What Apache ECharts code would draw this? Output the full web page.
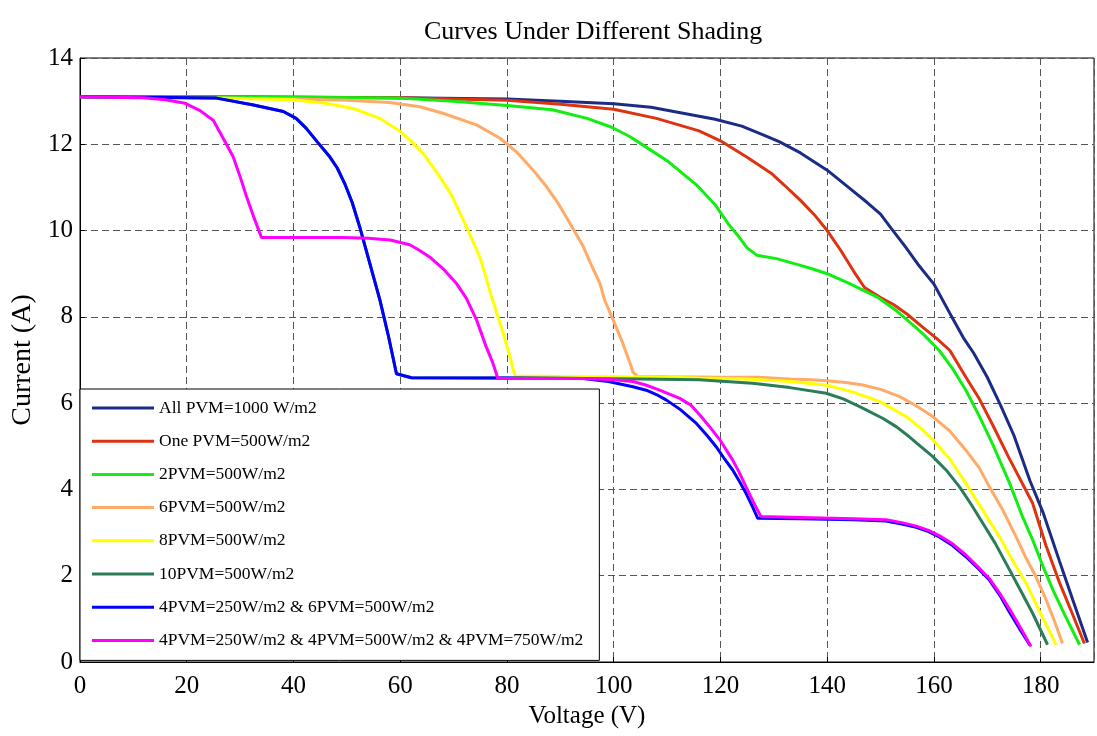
<!DOCTYPE html>
<html>
<head>
<meta charset="utf-8">
<title>Curves Under Different Shading</title>
<script src="https://cdn.jsdelivr.net/npm/echarts@6/dist/echarts.min.js"></script>
<style>
  html, body { margin: 0; padding: 0; background: #fff; }
  #chart { width: 1097px; height: 736px; }
</style>
</head>
<body>
<div id="chart"></div>
<script>
// I-V curves of the PV array, [voltage (V), current (A)]
const allPvm1000 = [[0,13.1],[20,13.1],[40,13.09],[60,13.08],[80,13.05],[90,13.0],[100,12.94],[107,12.86],[113,12.72],[119,12.58],[124,12.42],[128,12.22],[131,12.06],[135,11.8],[140,11.4],[144,11.0],[147.5,10.65],[150,10.38],[152,10.05],[154.5,9.65],[157,9.22],[160,8.76],[163,8.08],[165.5,7.52],[167.5,7.15],[170,6.6],[172.5,5.95],[175,5.25],[178,4.2],[180.5,3.45],[183.5,2.35],[186,1.45],[188.8,0.45]];

const onePvm500 = [[0,13.1],[20,13.1],[40,13.09],[60,13.08],[80,13.02],[90,12.93],[100,12.81],[108,12.6],[116,12.31],[120,12.08],[125,11.7],[129.5,11.33],[132,11.05],[135,10.7],[137.5,10.38],[140,10.0],[142.5,9.55],[145,9.05],[147,8.68],[150,8.45],[152.5,8.28],[155,8.06],[158,7.75],[160.5,7.5],[163,7.22],[166,6.6],[168.5,6.1],[171,5.5],[174,4.75],[178.5,3.68],[181,2.7],[183.5,1.85],[186,1.1],[188.2,0.43]];

const twoPvm500 = [[0,13.1],[20,13.1],[40,13.09],[60,13.07],[70,13.0],[80,12.9],[88.5,12.8],[95,12.6],[99.5,12.4],[103,12.18],[106,11.94],[110,11.62],[115.5,11.06],[119,10.6],[121.5,10.15],[123.5,9.85],[125,9.6],[126.8,9.43],[130.5,9.35],[134.5,9.21],[137,9.12],[140,9.0],[144,8.78],[147,8.6],[149.5,8.45],[153,8.14],[156,7.82],[158,7.6],[161,7.22],[163.5,6.8],[166,6.3],[168.5,5.7],[171,5.05],[174.2,4.14],[176.5,3.4],[178.5,2.83],[180.5,2.2],[182.3,1.67],[184.5,1.1],[187.3,0.4]];

const sixPvm500 = [[0,13.1],[20,13.08],[40,13.05],[50,13.02],[58,12.97],[63.7,12.87],[68,12.72],[74.3,12.45],[78.7,12.14],[82,11.8],[84.9,11.4],[87.4,11.02],[89.5,10.65],[91.8,10.17],[94.3,9.63],[96,9.15],[97.4,8.78],[98.3,8.39],[99.9,7.93],[101.7,7.39],[103,6.95],[103.6,6.72],[104.5,6.62],[110,6.61],[120,6.6],[127,6.6],[133,6.56],[137,6.54],[140,6.52],[143.5,6.48],[146.7,6.42],[150,6.32],[153.6,6.15],[156.5,5.95],[159.8,5.69],[163,5.35],[166,4.91],[168.5,4.5],[170.4,4.06],[173,3.5],[175.4,2.9],[177.3,2.4],[179.1,1.98],[181,1.45],[182.5,0.98],[184.1,0.43]];

const eightPvm500 = [[0,13.1],[20,13.08],[30,13.06],[39.9,13.03],[46,12.95],[51.2,12.83],[56.2,12.6],[59.9,12.31],[62,12.08],[64.3,11.79],[67.4,11.25],[69.5,10.85],[72.4,10.09],[74.9,9.39],[76,8.95],[77.1,8.47],[78.2,8.05],[79.3,7.62],[80.5,7.1],[81.5,6.63],[90,6.62],[100,6.61],[110,6.6],[116,6.58],[125,6.56],[133,6.5],[139.8,6.42],[145,6.25],[149.8,6.04],[154.8,5.69],[157.5,5.42],[159.8,5.15],[163,4.7],[166,4.14],[169,3.55],[172.3,2.9],[175,2.3],[177.3,1.82],[180,1.12],[182.9,0.4]];

const tenPvm500 = [[0,13.1],[12,13.09],[25.6,13.07],[32.5,12.91],[38.1,12.76],[40.5,12.6],[42.4,12.37],[44.5,12.05],[46.8,11.71],[48.2,11.45],[49.6,11.09],[51,10.65],[52.4,10.09],[54.3,9.24],[56.2,8.39],[57.8,7.55],[59.3,6.68],[62.1,6.59],[80,6.58],[95,6.57],[105,6.56],[116,6.54],[126,6.46],[133,6.36],[139.8,6.23],[143,6.1],[146.1,5.92],[150.4,5.65],[153,5.45],[155.4,5.22],[157.5,5.0],[159.8,4.76],[162.5,4.42],[164.8,4.06],[167,3.65],[169.2,3.21],[171.5,2.75],[174.2,2.13],[176.5,1.6],[178.5,1.13],[181.3,0.4]];

const mixTwoLevels = [[0,13.1],[12,13.09],[25.6,13.07],[32.5,12.91],[38.1,12.76],[40.5,12.6],[42.4,12.37],[44.5,12.05],[46.8,11.71],[48.2,11.45],[49.6,11.09],[51,10.65],[52.4,10.09],[54.3,9.24],[56.2,8.39],[57.8,7.55],[59.3,6.68],[62.1,6.59],[80,6.58],[94.3,6.57],[99,6.5],[103.6,6.38],[106.1,6.3],[108,6.2],[109.9,6.07],[112.5,5.85],[115.5,5.53],[117.5,5.25],[119.2,4.99],[120.8,4.7],[122.3,4.45],[123.6,4.18],[124.8,3.91],[126,3.6],[127,3.33],[135,3.32],[145,3.3],[151,3.27],[154,3.2],[156.7,3.12],[159,3.02],[161,2.9],[163.5,2.7],[166,2.44],[168.3,2.17],[170.4,1.9],[172.5,1.52],[174.2,1.15],[176,0.78],[178,0.39]];

const mixThreeLevels = [[0,13.1],[11.9,13.08],[16,13.03],[19.7,12.95],[22.5,12.78],[25,12.55],[27,12.1],[28.7,11.71],[30,11.25],[31.2,10.79],[32.6,10.3],[34,9.84],[40,9.84],[49.3,9.84],[54,9.82],[58.1,9.78],[61.8,9.67],[63.5,9.55],[65.5,9.39],[68,9.12],[70.5,8.78],[72.4,8.43],[74.3,7.93],[76.1,7.31],[77.3,6.95],[78.3,6.57],[85,6.57],[94.3,6.57],[100,6.54],[103.6,6.5],[106,6.42],[108.6,6.3],[112.4,6.11],[114.5,5.95],[116.1,5.73],[118,5.45],[119.9,5.15],[122.3,4.68],[123.5,4.4],[124.8,4.06],[126.2,3.7],[127.6,3.37],[135,3.35],[145,3.32],[151,3.3],[154,3.23],[156.7,3.15],[159,3.05],[161,2.93],[163.5,2.74],[166,2.48],[168.3,2.2],[170.4,1.93],[172.5,1.56],[174.4,1.18],[176.2,0.8],[178.2,0.36]];

const seriesNames = [
  'All PVM=1000 W/m2',
  'One PVM=500W/m2',
  '2PVM=500W/m2',
  '6PVM=500W/m2',
  '8PVM=500W/m2',
  '10PVM=500W/m2',
  '4PVM=250W/m2 & 6PVM=500W/m2',
  '4PVM=250W/m2 & 4PVM=500W/m2 & 4PVM=750W/m2'
];
const seriesData = [allPvm1000, onePvm500, twoPvm500, sixPvm500, eightPvm500, tenPvm500, mixTwoLevels, mixThreeLevels];
const seriesColors = ['#1c2c86', '#dd3311', '#11ee11', '#ffaa66', '#ffff00', '#2b7d58', '#0000ff', '#ff00ff'];

const xTicks = { min: 0, max: 190, step: 20 };
const yTicks = { min: 0, max: 14, step: 2 };

const serif = 'Liberation Serif, Times New Roman, serif';
const chart = echarts.init(document.getElementById('chart'), null, { renderer: 'canvas' });

chart.setOption({
  animation: false,
  backgroundColor: '#fff',
  title: {
    text: 'Curves Under Different Shading',
    left: 424,
    top: 19,
    padding: 0,
    textStyle: { fontFamily: serif, fontSize: 26, fontWeight: 'normal', color: '#000' }
  },
  grid: {
    left: 80, right: 3, top: 58, bottom: 74,
    show: true, borderColor: '#000', borderWidth: 1, backgroundColor: 'transparent'
  },
  legend: {
    orient: 'vertical',
    left: 80,
    top: 389,
    padding: [9, 16, 10, 12],
    itemWidth: 62,
    itemHeight: 3,
    itemGap: 13.2,
    icon: 'rect',
    backgroundColor: '#fff',
    borderColor: '#000',
    borderWidth: 1,
    borderRadius: 0,
    selectedMode: false,
    textStyle: { fontFamily: serif, fontSize: 17.5, color: '#000', lineHeight: 20 },
    data: seriesNames
  },
  xAxis: {
    type: 'value',
    min: xTicks.min, max: xTicks.max, interval: xTicks.step,
    name: 'Voltage (V)',
    nameLocation: 'middle',
    nameGap: 41,
    nameTextStyle: { fontFamily: serif, fontSize: 25, color: '#000' },
    axisLine: { show: true, lineStyle: { color: '#000', width: 1 } },
    axisTick: { show: true, inside: true, length: 5, lineStyle: { color: '#000' } },
    axisLabel: {
      fontFamily: serif, fontSize: 25, color: '#000', margin: 12,
      showMaxLabel: false,
      formatter: v => (v > 180 ? '' : String(v))
    },
    splitLine: { show: true, lineStyle: { color: '#555', width: 1, type: [7, 4] } }
  },
  yAxis: {
    type: 'value',
    min: yTicks.min, max: yTicks.max, interval: yTicks.step,
    name: 'Current (A)',
    nameLocation: 'middle',
    nameGap: 40,
    nameTextStyle: { fontFamily: serif, fontSize: 28, color: '#000' },
    axisLine: { show: true, lineStyle: { color: '#000', width: 1 } },
    axisTick: { show: true, inside: true, length: 5, lineStyle: { color: '#000' } },
    axisLabel: { fontFamily: serif, fontSize: 25, color: '#000', margin: 7 },
    splitLine: { show: true, lineStyle: { color: '#555', width: 1, type: [7, 4] } }
  },
  series: seriesNames.map((name, i) => ({
    name: name,
    type: 'line',
    data: seriesData[i],
    showSymbol: false,
    symbol: 'none',
    color: seriesColors[i],
    lineStyle: { color: seriesColors[i], width: 3 },
    emphasis: { disabled: true },
    z: 2 + i * 0.01
  }))
});
</script>
</body>
</html>
